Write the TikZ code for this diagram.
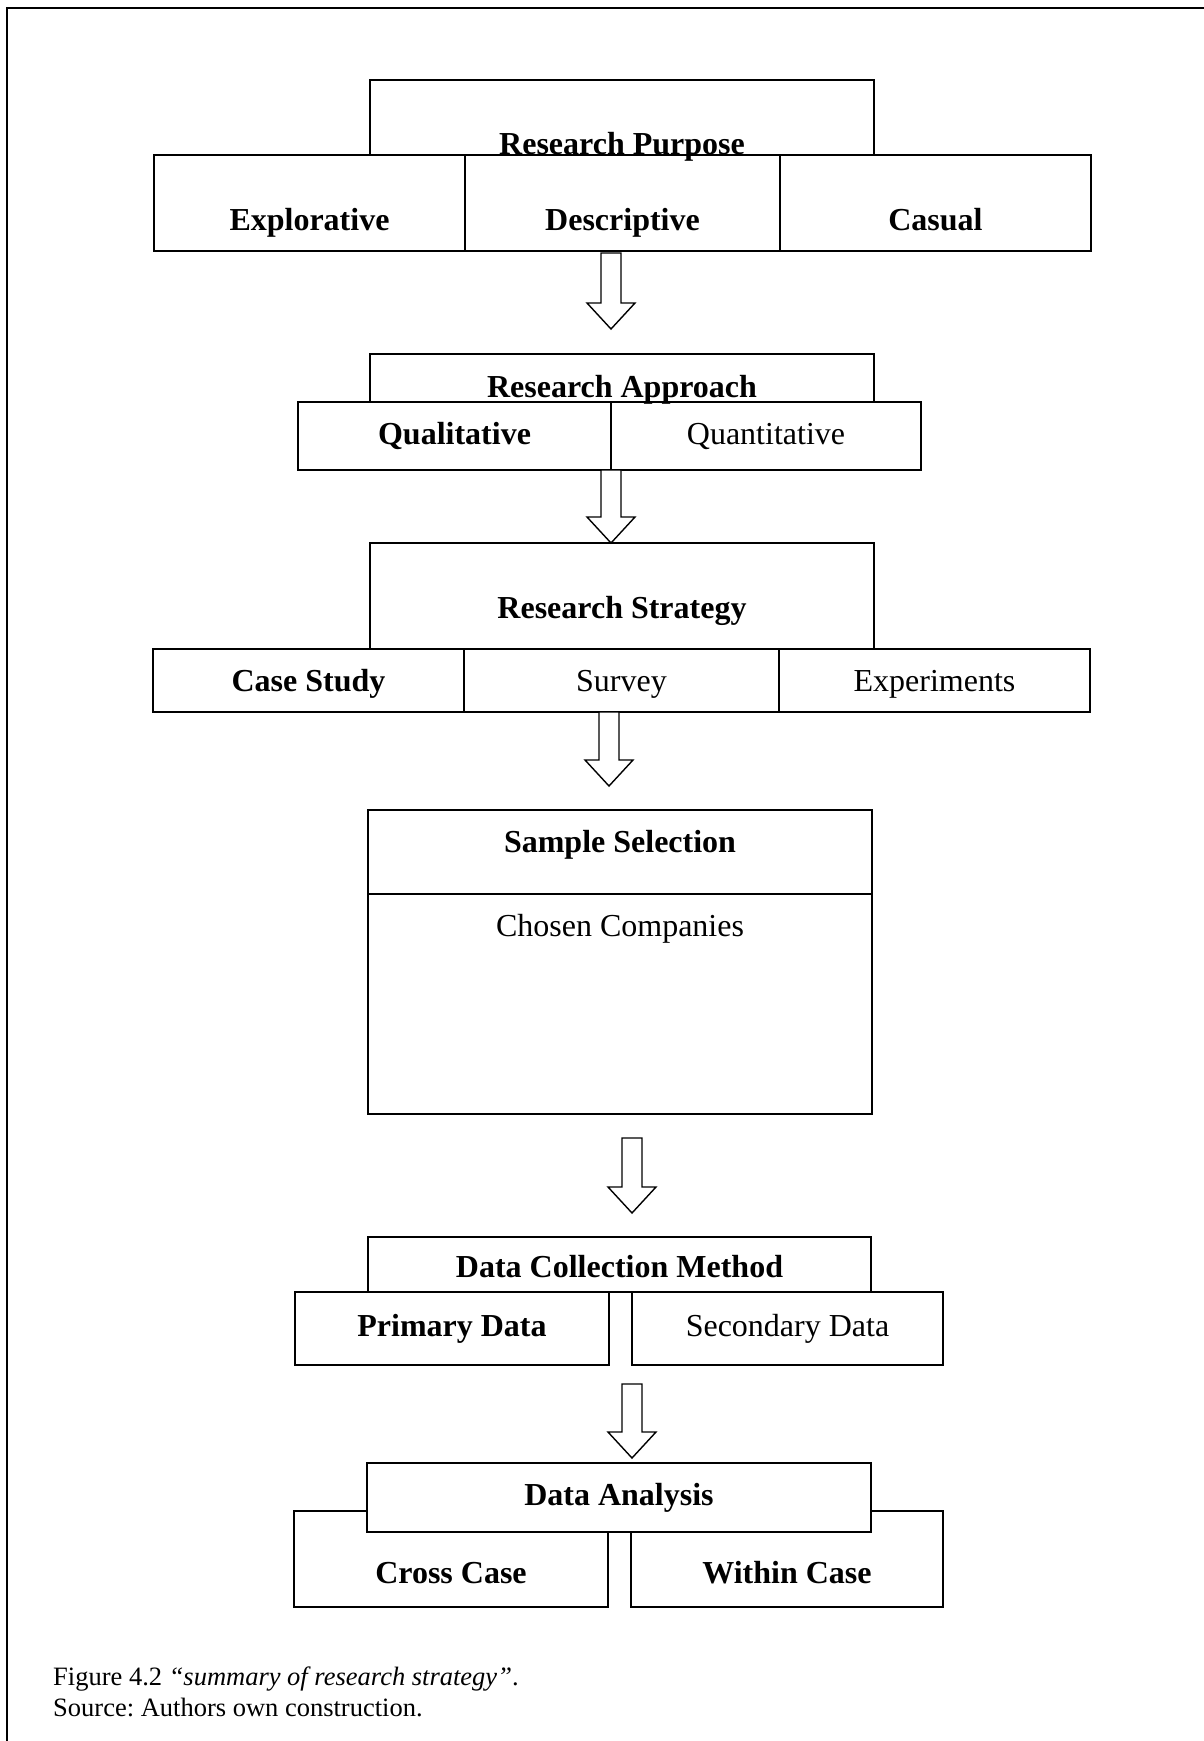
\documentclass[tikz,border=0pt]{standalone}
\usepackage{fontspec}
\setmainfont{Liberation Serif}
\frenchspacing
\usetikzlibrary{calc,positioning}
\newcommand{\boldlbl}{\fontsize{32}{38}\selectfont\bfseries}
\newcommand{\plainlbl}{\fontsize{32}{38}\selectfont}
\newcommand{\capfont}{\fontsize{26.5}{31}\selectfont}
\newcommand{\flowarrow}[2]{%
  \draw[arrowline] ($(#1)+(-10,0)$) -- ($(#2)+(-10,-26)$) -- ($(#2)+(-24,-26)$) -- (#2)
    -- ($(#2)+(24,-26)$) -- ($(#2)+(10,-26)$) -- ($(#1)+(10,0)$) -- cycle;}

\begin{document}
\begin{tikzpicture}[x=1pt,y=-1pt,
  box/.style={draw,line width=1.6pt,inner sep=0pt,outer sep=0pt,anchor=north west,font=\boldlbl},
  hdr/.style={box,fill=white},
  lbl/.style={inner sep=0pt,font=\boldlbl},
  regtext/.style={font=\plainlbl},
  arrowline/.style={draw,line width=1.4pt,fill=white,line join=miter}]
  \useasboundingbox (0,0) rectangle (1204,1741);
  % page frame
  \draw[line width=1.6pt] (7,1741) -- (7,8) -- (1204,8);

  % research purpose
  \node[box,minimum width=311pt,minimum height=96pt,label={[lbl,anchor=base,yshift=21pt]south:Explorative}] (expl) at (154,155) {};
  \node[box,minimum width=315pt,minimum height=96pt,right=0pt of expl,label={[lbl,anchor=base,yshift=21pt]south:Descriptive}] (desc) {};
  \node[box,minimum width=311pt,minimum height=96pt,right=0pt of desc,label={[lbl,anchor=base,yshift=21pt]south:Casual}] (casu) {};
  \node[hdr,minimum width=504pt,minimum height=75pt,label={[lbl,anchor=base,yshift=1pt]south:Research Purpose}] (purp) at (370,80) {};

  % research approach
  \node[box,minimum width=313pt,minimum height=68pt] (qual) at (298,402) {Qualitative};
  \node[box,regtext,minimum width=310pt,minimum height=68pt,right=0pt of qual] (quan) {Quantitative};
  \node[hdr,minimum width=504pt,minimum height=48pt,label={[lbl,yshift=-11.5pt]center:Research Approach}] (appr) at (370,354) {};

  % research strategy
  \node[box,minimum width=311pt,minimum height=63pt,label={[lbl,yshift=-3.5pt]center:Case Study}] (case) at (153,649) {};
  \node[box,minimum width=315pt,minimum height=63pt,right=0pt of case,label={[lbl,regtext,yshift=-3.5pt]center:Survey}] (surv) {};
  \node[box,minimum width=311pt,minimum height=63pt,right=0pt of surv,label={[lbl,regtext,yshift=-3.5pt]center:Experiments}] (expe) {};
  \node[hdr,minimum width=504pt,minimum height=106pt,label={[lbl,yshift=-14.5pt]center:Research Strategy}] (strat) at (370,543) {};

  % sample selection
  \node[box,minimum width=504pt,minimum height=84pt,label={[lbl,yshift=7.7pt]center:Sample Selection}] (samp) at (368,810) {};
  \node[box,minimum width=504pt,minimum height=220pt,label={[lbl,regtext,yshift=75.7pt]center:Chosen Companies}] (chos) at (368,894) {};

  % data collection
  \node[box,minimum width=314pt,minimum height=73pt] (prim) at (295,1292) {Primary Data};
  \node[box,regtext,minimum width=311pt,minimum height=73pt,right=23pt of prim] (seco) {Secondary Data};
  \node[hdr,minimum width=503pt,minimum height=55pt,label={[lbl,yshift=-2pt]center:Data Collection Method}] (dcm) at (368,1237) {};

  % data analysis
  \node[box,minimum width=314pt,minimum height=96pt,label={[lbl,yshift=-14pt]center:Cross Case}] (cross) at (294,1511) {};
  \node[box,minimum width=312pt,minimum height=96pt,right=23pt of cross,label={[lbl,yshift=-14pt]center:Within Case}] (within) {};
  \node[hdr,minimum width=504pt,minimum height=69pt] (anal) at (367,1463) {Data Analysis};

  % block arrows
  \coordinate (a1s) at (611,253);  \coordinate (a1e) at (611,329);
  \coordinate (a2s) at (611,470);  \coordinate (a2e) at (611,543);
  \coordinate (a3s) at (609,712);  \coordinate (a3e) at (609,786);
  \coordinate (a4s) at (632,1138); \coordinate (a4e) at (632,1213);
  \coordinate (a5s) at (632,1384); \coordinate (a5e) at (632,1458);
  \flowarrow{a1s}{a1e}
  \flowarrow{a2s}{a2e}
  \flowarrow{a3s}{a3e}
  \flowarrow{a4s}{a4e}
  \flowarrow{a5s}{a5e}

  % caption
  \node[anchor=base west,font=\capfont,inner sep=0pt] (capfig) at (53,1685) {Figure 4.2 \textit{“summary of research strategy”}.};
  \node[anchor=base west,font=\capfont,inner sep=0pt] (capsrc) at (53,1716) {Source: Authors own construction.};
\end{tikzpicture}
\end{document}
